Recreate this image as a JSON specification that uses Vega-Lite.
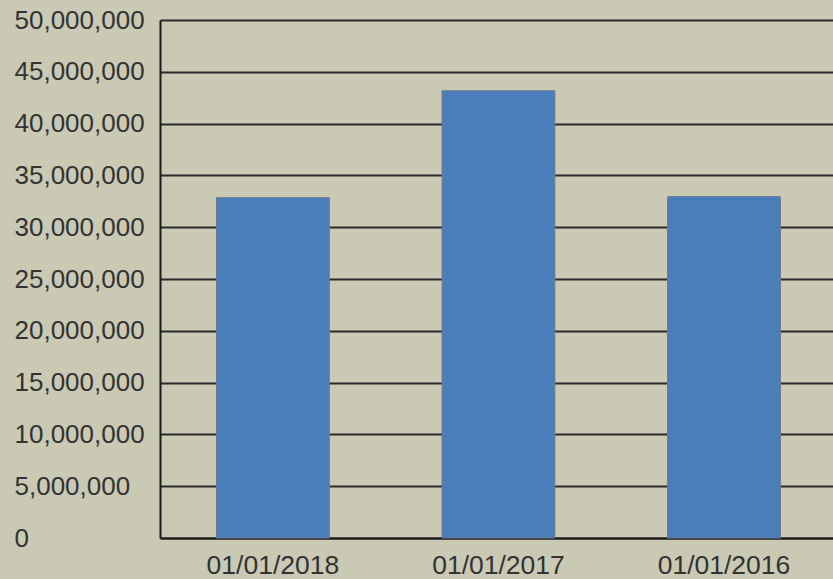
{
  "$schema": "https://vega.github.io/schema/vega-lite/v6.json",
  "autosize": "none",
  "padding": {"left": 160, "top": 20, "right": 0, "bottom": 41},
  "width": 673,
  "height": 518,
  "background": "#c9c9b4",
  "config": {
    "view": {"stroke": null},
    "font": "Liberation Sans",
    "axis": {"labelFont": "Liberation Sans", "labelFontSize": 26, "labelColor": "#333333", "ticks": false, "domainColor": "#1a1a1a", "domainWidth": 2, "title": null}
  },
  "data": {
    "values": [
      {"date": "01/01/2018", "value": 32850000},
      {"date": "01/01/2017", "value": 43170000},
      {"date": "01/01/2016", "value": 32950000}
    ]
  },
  "mark": {"type": "bar", "color": "#4a7ebb", "stroke": "#687a92", "strokeWidth": 1},
  "encoding": {
    "x": {
      "field": "date", "type": "nominal", "sort": null,
      "scale": {"paddingInner": 0.5, "paddingOuter": 0.242, "align": 0.518},
      "axis": {"labelAngle": 0, "labelPadding": 14, "grid": false, "labelFontSize": 26.5}
    },
    "y": {
      "field": "value", "type": "quantitative",
      "scale": {"domain": [0, 50000000], "nice": false},
      "axis": {"values": [0, 5000000, 10000000, 15000000, 20000000, 25000000, 30000000, 35000000, 40000000, 45000000, 50000000], "format": ",d", "labelAlign": "left", "labelPadding": 146, "grid": true, "gridColor": "#2a2a2a", "gridWidth": 2, "gridOpacity": 1}
    }
  }
}
